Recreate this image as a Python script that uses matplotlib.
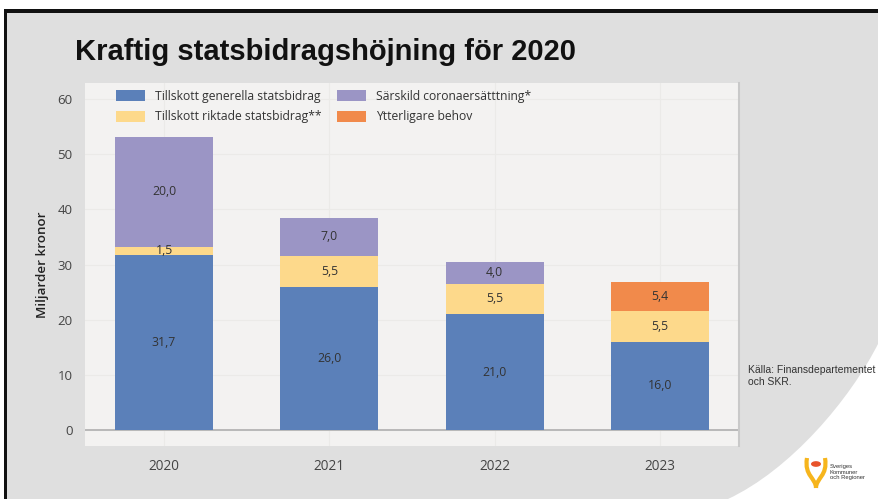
import matplotlib
matplotlib.use("Agg")
import matplotlib.pyplot as plt
import numpy as np
from matplotlib.patches import Rectangle, PathPatch, Circle
from matplotlib.path import Path

# ---- data ----
years = ["2020", "2021", "2022", "2023"]
generella = [31.7, 26.0, 21.0, 16.0]
riktade = [1.5, 5.5, 5.5, 5.5]
corona = [20.0, 7.0, 4.0, 0.0]
ytterligare = [0.0, 0.0, 0.0, 5.4]
series_names = ["Tillskott generella statsbidrag", "Tillskott riktade statsbidrag**",
                "Särskild coronaersätttning*", "Ytterligare behov"]
series_colors = ["#5b80b9", "#fdd98b", "#9b95c5", "#f18a4b"]
yticks = [0, 10, 20, 30, 40, 50, 60]
title = "Kraftig statsbidragshöjning för 2020"
ylabel = "Miljarder kronor"
source = "Källa: Finansdepartementet\noch SKR."

W, H = 879, 499
fig = plt.figure(figsize=(W / 100, H / 100), dpi=100, facecolor="white")

def P(x, y):
    return (x / W, 1 - y / H)

# slide background
slide_bg = "#dfdfdf"
fig.patches.append(Rectangle(P(6, H), (W - 6) / W, (H - 12) / H, transform=fig.transFigure,
                             facecolor=slide_bg, edgecolor="none", zorder=-3))
# black frame (top and left)
fig.patches.append(Rectangle(P(4, 13), (W - 4) / W, 4 / H, transform=fig.transFigure,
                             facecolor="#111111", edgecolor="none", zorder=-2))
fig.patches.append(Rectangle(P(4, H), 3 / W, (H - 9) / H, transform=fig.transFigure,
                             facecolor="#111111", edgecolor="none", zorder=-2))
# white curved corner
verts = [P(879, 342), P(850, 400), P(790, 470), P(728, 499), P(879, 499), P(879, 342)]
codes = [Path.MOVETO, Path.CURVE4, Path.CURVE4, Path.CURVE4, Path.LINETO, Path.CLOSEPOLY]
fig.patches.append(PathPatch(Path(verts, codes), transform=fig.transFigure,
                             facecolor="white", edgecolor="none", zorder=-2))

# title
fig.text(*P(75, 52), title, fontsize=21, fontweight="bold", family="Liberation Sans",
         color="#111111", va="center", ha="left")

# axes
ax_left, ax_right, ax_top, ax_bot = 85, 739, 83, 446
ax = fig.add_axes([ax_left / W, 1 - ax_bot / H, (ax_right - ax_left) / W, (ax_bot - ax_top) / H])
ax.set_zorder(2)
ax.set_facecolor("#f3f2f1")
for s in ax.spines.values():
    s.set_visible(False)

x = np.arange(len(years))
width = 0.593
bottom = np.zeros(len(years))
handles = []
for vals, name, col in zip([generella, riktade, corona, ytterligare], series_names, series_colors):
    vals = np.array(vals)
    bars = ax.bar(x, vals, width, bottom=bottom, color=col, label=name, zorder=3,
                  edgecolor="none")
    labels = [f"{v:.1f}".replace(".", ",") if v > 0 else "" for v in vals]
    ax.bar_label(bars, labels=labels, label_type="center", fontsize=8.8,
                 family="Open Sans", color="#333333", zorder=4)
    handles.append(bars)
    bottom += vals

ax.set_xlim(-0.478, 3.478)
ax.set_ylim(-2.9, 62.9)
ax.set_yticks(yticks)
ax.set_yticklabels([str(v) for v in yticks], family="Open Sans", fontsize=9.5, color="#444444")
ax.set_xticks(x)
ax.set_xticklabels(years, family="Open Sans", fontsize=9.8, color="#444444")
ax.tick_params(axis="both", length=0)
ax.tick_params(axis="y", pad=9)
ax.tick_params(axis="x", pad=9)
ax.grid(True, color="#ebeae8", lw=0.8, zorder=0)
ax.set_axisbelow(True)
ax.axhline(0, color="#b4b4b4", lw=1.3, zorder=2)
ax.plot([1.0, 1.0], [0, 1], transform=ax.transAxes, color="#c9c9c9", lw=1.5,
        clip_on=False, zorder=5)

ax.set_ylabel(ylabel, family="Open Sans", fontweight="semibold", fontsize=9.6, color="#222222",
              labelpad=6)

leg = ax.legend(handles=handles, labels=series_names, ncol=2, loc="upper left",
                bbox_to_anchor=((116 - ax_left) / (ax_right - ax_left), 1 - (90 - ax_top) / (ax_bot - ax_top)),
                frameon=False, prop={"family": "Open Sans", "size": 8.7},
                handlelength=2.4, handleheight=1.0, handletextpad=0.8,
                labelspacing=0.6, columnspacing=1.3, borderpad=0, borderaxespad=0)
for t in leg.get_texts():
    t.set_color("#333333")

# source
fig.text(*P(748, 376), source, fontsize=7.5, family="Liberation Sans", color="#333333",
         va="center", ha="left", linespacing=1.3)

# logo approximation
lx, ly = 816, 472
fig.patches.append(Circle(P(lx, ly - 8), 5 / W, transform=fig.transFigure,
                          facecolor="#e8532b", edgecolor="none", zorder=3))
for sgn in (-1, 1):
    fig.patches.append(PathPatch(Path([P(lx + sgn * 9, ly - 14), P(lx + sgn * 12, ly + 4),
                                       P(lx, ly + 6), P(lx, ly + 16)],
                                      [Path.MOVETO, Path.CURVE4, Path.CURVE4, Path.CURVE4]),
                                 transform=fig.transFigure, facecolor="none",
                                 edgecolor="#f6b51d", lw=3, zorder=3))
fig.text(*P(830, 472), "Sveriges\nKommuner\noch Regioner", fontsize=4.2, family="Liberation Sans",
         color="#333333", va="center", ha="left", linespacing=1.2)

fig.savefig("out.png", dpi=100, facecolor=fig.get_facecolor())
